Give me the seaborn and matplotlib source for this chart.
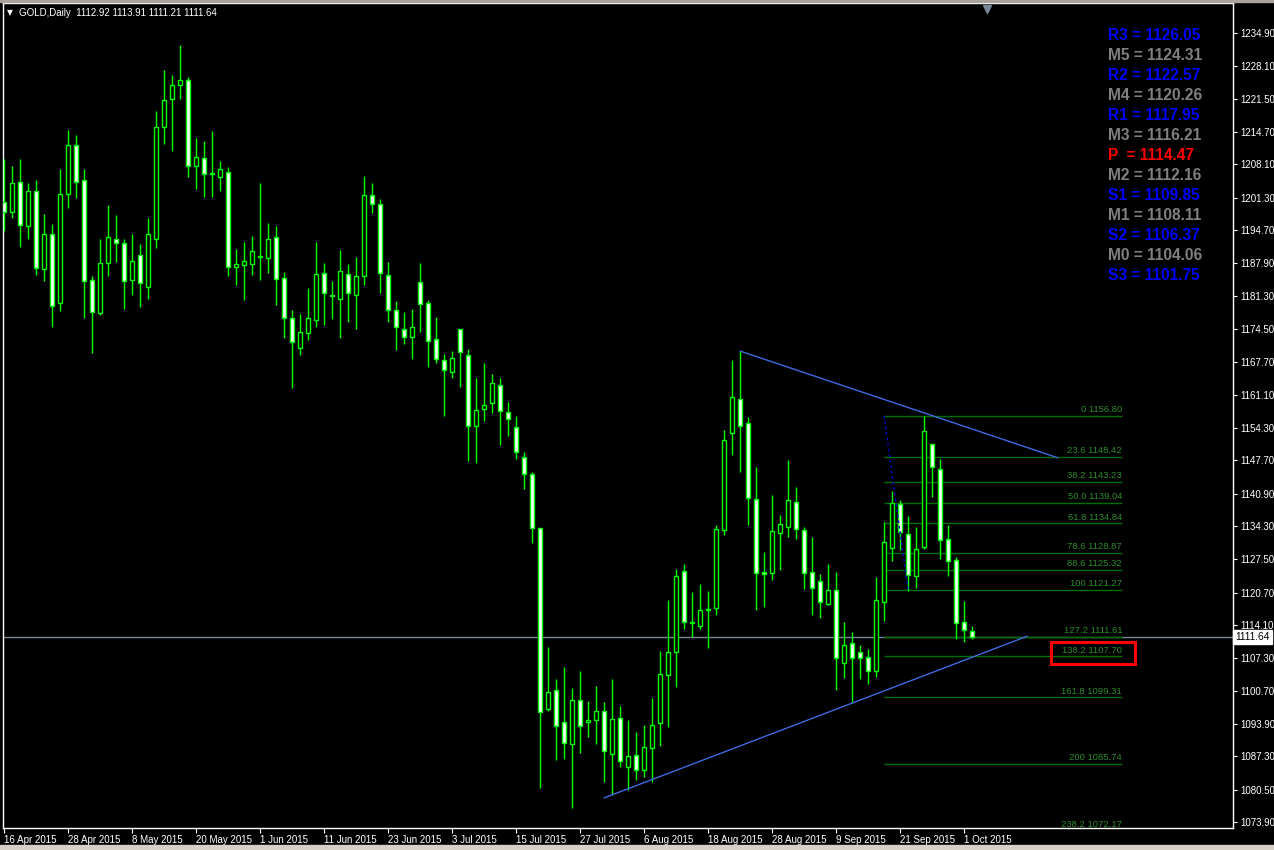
import numpy as np
import pandas as pd
import matplotlib
matplotlib.use("Agg")
import matplotlib.pyplot as plt
import matplotlib.transforms as mtransforms
from matplotlib.patches import Rectangle
import seaborn as sns

# GOLD daily bars, 16 Apr 2015 .. 2 Oct 2015
opens = [1200.5, 1198.3, 1204.6, 1195.6, 1202.6, 1186.7, 1193.8, 1179.9, 1202.0, 1212.0,
         1205.0, 1184.5, 1177.8, 1187.9, 1192.9, 1192.0, 1184.6, 1189.5, 1183.1, 1192.8,
         1215.7, 1221.4, 1224.2, 1225.4, 1207.7, 1209.3, 1206.3, 1205.5, 1206.6, 1187.1,
         1187.5, 1187.7, 1189.4, 1188.9, 1193.3, 1185.0, 1176.7, 1170.6, 1173.6, 1176.3,
         1185.9, 1181.5, 1180.6, 1185.7, 1181.4, 1185.3, 1201.8, 1200.1, 1185.5, 1178.3,
         1174.4, 1172.8, 1184.0, 1179.9, 1172.4, 1168.1, 1165.7, 1174.6, 1169.1, 1154.8,
         1158.1, 1159.3, 1163.0, 1157.5, 1154.6, 1148.3, 1145.0, 1133.8, 1097.0, 1100.8,
         1094.2, 1089.9, 1098.7, 1094.2, 1094.6, 1096.5, 1087.7, 1095.2, 1085.2, 1087.5,
         1084.4, 1088.9, 1094.0, 1103.8, 1108.5, 1125.2, 1114.5, 1113.8, 1117.2, 1117.5,
         1133.4, 1153.2, 1160.3, 1155.4, 1139.9, 1125.0, 1124.6, 1132.8, 1134.0, 1139.1,
         1133.4, 1125.0, 1123.0, 1118.3, 1121.2, 1106.3, 1110.5, 1108.5, 1107.5, 1104.6,
         1118.7, 1129.9, 1138.7, 1132.6, 1124.0, 1130.1, 1151.0, 1145.9, 1131.6, 1127.3,
         1114.6, 1112.92]
highs = [1209.2, 1207.8, 1209.2, 1204.2, 1204.9, 1198.0, 1195.9, 1207.2, 1215.1, 1214.1,
         1207.2, 1185.3, 1192.9, 1199.8, 1197.8, 1192.9, 1193.9, 1191.8, 1197.2, 1219.0,
         1227.4, 1226.3, 1232.5, 1225.9, 1213.5, 1212.9, 1214.9, 1208.8, 1207.6, 1190.8,
         1192.3, 1193.5, 1204.2, 1196.1, 1195.5, 1186.1, 1178.4, 1177.6, 1182.9, 1192.3,
         1188.0, 1184.3, 1190.6, 1187.8, 1189.1, 1205.7, 1204.3, 1201.0, 1188.2, 1180.2,
         1177.9, 1178.5, 1188.0, 1180.4, 1176.9, 1169.4, 1170.1, 1174.6, 1170.4, 1164.4,
         1167.5, 1165.3, 1164.6, 1159.5, 1156.7, 1149.4, 1145.4, 1133.8, 1109.6, 1103.1,
         1105.5, 1101.2, 1104.7, 1098.5, 1101.6, 1098.3, 1103.1, 1097.5, 1094.6, 1092.2,
         1093.6, 1099.1, 1108.8, 1119.2, 1125.5, 1126.5, 1120.8, 1122.4, 1121.0, 1134.4,
         1153.9, 1168.1, 1170.0, 1156.5, 1146.3, 1129.0, 1140.6, 1136.5, 1147.8, 1142.2,
         1134.0, 1132.0, 1124.4, 1126.5, 1125.0, 1114.6, 1112.6, 1110.1, 1109.1, 1123.8,
         1135.1, 1141.4, 1139.7, 1136.3, 1134.0, 1156.8, 1151.0, 1147.9, 1134.4, 1127.9,
         1118.9, 1113.91]
lows = [1194.6, 1197.2, 1191.3, 1192.9, 1185.5, 1184.2, 1175.0, 1178.2, 1199.1, 1201.3,
        1176.8, 1169.7, 1177.4, 1185.4, 1188.2, 1178.6, 1181.4, 1178.9, 1180.7, 1191.1,
        1212.3, 1210.9, 1221.5, 1205.6, 1203.1, 1201.5, 1201.5, 1202.7, 1185.4, 1183.5,
        1180.5, 1185.6, 1184.4, 1185.9, 1179.3, 1172.7, 1162.5, 1169.1, 1172.3, 1175.0,
        1175.4, 1176.6, 1172.7, 1176.0, 1174.4, 1183.5, 1198.2, 1181.9, 1176.0, 1170.3,
        1171.5, 1168.4, 1173.8, 1166.8, 1167.5, 1156.8, 1164.6, 1162.7, 1147.6, 1147.1,
        1155.8, 1157.3, 1150.9, 1152.7, 1148.0, 1141.9, 1130.9, 1080.9, 1096.6, 1086.6,
        1086.8, 1076.8, 1088.0, 1091.2, 1089.9, 1082.1, 1079.3, 1085.2, 1080.5, 1082.5,
        1083.1, 1082.1, 1089.3, 1093.3, 1101.4, 1113.2, 1111.6, 1113.2, 1109.3, 1116.1,
        1132.4, 1148.7, 1145.4, 1134.4, 1117.2, 1117.8, 1123.3, 1125.4, 1132.0, 1131.7,
        1121.4, 1116.2, 1115.6, 1118.2, 1100.9, 1103.3, 1098.1, 1103.1, 1102.1, 1103.5,
        1115.0, 1127.1, 1129.3, 1121.0, 1121.6, 1129.7, 1140.3, 1127.6, 1124.0, 1111.3,
        1110.7, 1111.21]
closes = [1198.3, 1204.2, 1195.7, 1202.6, 1186.9, 1193.8, 1179.1, 1202.0, 1212.0, 1204.4,
          1184.3, 1178.0, 1187.9, 1193.2, 1192.0, 1184.2, 1188.3, 1183.8, 1193.8, 1215.7,
          1221.2, 1224.2, 1225.4, 1207.7, 1209.7, 1206.1, 1206.1, 1207.1, 1187.1, 1187.7,
          1188.3, 1190.4, 1189.2, 1192.8, 1184.8, 1176.7, 1171.8, 1173.8, 1176.7, 1185.7,
          1181.8, 1181.3, 1186.3, 1181.8, 1185.3, 1201.8, 1200.1, 1185.9, 1178.3, 1175.0,
          1172.8, 1175.0, 1179.7, 1172.0, 1168.3, 1166.1, 1168.5, 1169.9, 1154.8, 1157.9,
          1158.9, 1163.4, 1157.7, 1156.1, 1149.3, 1145.0, 1133.8, 1096.3, 1100.5, 1093.5,
          1090.1, 1098.7, 1093.4, 1094.8, 1096.5, 1088.3, 1095.0, 1086.3, 1087.3, 1084.4,
          1089.1, 1093.6, 1104.0, 1108.5, 1124.0, 1114.6, 1114.7, 1117.1, 1117.4, 1133.6,
          1151.8, 1160.6, 1154.8, 1140.1, 1124.8, 1124.4, 1133.2, 1134.6, 1139.7, 1133.6,
          1124.8, 1121.6, 1118.7, 1121.2, 1107.3, 1110.1, 1107.3, 1107.3, 1104.6, 1119.1,
          1131.0, 1138.9, 1133.0, 1124.2, 1129.7, 1153.6, 1146.3, 1131.4, 1127.1, 1114.4,
          1113.0, 1111.64]

last_bar = [1112.92, 1113.91, 1111.21, 1111.64]

pivot_names = ["R3", "M5", "R2", "M4", "R1", "M3", "P ", "M2", "S1", "M1", "S2", "M0", "S3"]
pivot_values = [1126.05, 1124.31, 1122.57, 1120.26, 1117.95, 1116.21, 1114.47,
                1112.16, 1109.85, 1108.11, 1106.37, 1104.06, 1101.75]

fib_pct = ["0", "23.6", "38.2", "50.0", "61.8", "78.6", "88.6", "100",
           "127.2", "138.2", "161.8", "200", "238.2"]
fib_price = [1156.80, 1148.42, 1143.23, 1139.04, 1134.84, 1128.87, 1125.32, 1121.27,
             1111.61, 1107.70, 1099.31, 1085.74, 1072.17]

upper_trend_x = [92, 131.75]
upper_trend_y = [1170.0, 1148.2]
lower_trend_x = [75, 127.9]
lower_trend_y = [1078.8, 1111.8]
fib_anchor_x = [110, 113]
fib_anchor_y = [1156.80, 1121.27]

price_ticks = [1234.90, 1228.10, 1221.50, 1214.70, 1208.10, 1201.30, 1194.70, 1187.90,
               1181.30, 1174.50, 1167.70, 1161.10, 1154.30, 1147.70, 1140.90, 1134.30,
               1127.50, 1120.70, 1114.10, 1107.30, 1100.70, 1093.90, 1087.30, 1080.50,
               1073.90]

bid = 1111.64

df = pd.DataFrame({"open": opens, "high": highs, "low": lows, "close": closes})
df["date"] = pd.bdate_range("2015-04-16", periods=len(df))
df["bar"] = np.arange(len(df))

sns.set_theme(style="dark", rc={"axes.facecolor": "black", "figure.facecolor": "black",
                                "axes.edgecolor": "white", "axes.grid": False})
plt.rcParams["font.family"] = ["Liberation Sans", "DejaVu Sans"]

fig = plt.figure(figsize=(12.74, 8.50), dpi=100)
ax = fig.add_axes([3 / 1274, 1 - 828 / 850, 1230 / 1274, 825 / 850])

lime = "#00ff00"
bear = df["close"] < df["open"]

# wicks then bodies
ax.vlines(df["bar"], df["low"], df["high"], color=lime, lw=1.0, zorder=3)
bottoms = np.minimum(df["open"], df["close"])
heights = np.maximum((df["close"] - df["open"]).abs(), 0.12)
ax.bar(df["bar"], heights, bottom=bottoms, width=0.58,
       color=np.where(bear, "white", "black"), edgecolor=lime, linewidth=1.0, zorder=4)

# bid line
ax.axhline(bid, color="#778899", lw=1.0, zorder=2)

# trend lines
sns.lineplot(x=upper_trend_x, y=upper_trend_y, ax=ax, color="#4169e1", lw=1.0, zorder=5)
sns.lineplot(x=lower_trend_x, y=lower_trend_y, ax=ax, color="#4169e1", lw=1.0, zorder=5)

# fibonacci
ax.hlines(fib_price, 110, 139.75, color="#007000", lw=1.0, zorder=2)
ax.plot(fib_anchor_x, fib_anchor_y, color="#0000cd", lw=1.0, ls=(0, (2, 2)), zorder=5)
for pct, val in zip(fib_pct, fib_price):
    ax.text(139.75, val + 0.35, f"{pct} {val:.2f}", color="#2e8b2e", fontsize=6.8,
            ha="right", va="bottom", clip_on=True, zorder=6)

ax.add_patch(Rectangle((130.9, 1106.13), 10.5, 4.5, fill=False, edgecolor="red",
                       lw=2.2, zorder=7))

# pivot levels
for k, (name, val) in enumerate(zip(pivot_names, pivot_values)):
    if name.startswith("P"):
        col = "#ff0000"
        txt = f"P  = {val:.2f}"
    elif name.startswith("M"):
        col = "#808080"
        txt = f"{name} = {val:.2f}"
    else:
        col = "#0000ff"
        txt = f"{name} = {val:.2f}"
    ax.text(0.8984, (828 - 35 - 20 * k) / 825, txt, transform=ax.transAxes, color=col,
            fontsize=11.2, fontweight="bold", ha="left", va="center", zorder=8)

# axes, ticks
ax.set_xlim(-0.125, 153.625)
ax.set_ylim(1072.66, 1241.03)
ax.yaxis.tick_right()
ax.set_yticks(price_ticks)
ax.set_yticklabels([f"{p:.2f}" for p in price_ticks])
ticks = df["bar"][::8]
ax.set_xticks(ticks)
ax.set_xticklabels([f"{d.day} {d:%b %Y}" for d in df["date"][::8]])
for lbl in ax.get_xticklabels():
    lbl.set_ha("left")
ax.tick_params(axis="y", colors="white", direction="out", length=3, width=0.8,
               pad=2, labelsize=7, right=True, left=False)
ax.tick_params(axis="x", colors="white", direction="out", length=3.5, width=0.8,
               pad=1.5, labelsize=7, bottom=True)
for sp in ax.spines.values():
    sp.set_color("white")
    sp.set_linewidth(1.0)

# bid price box on the axis
trans = mtransforms.blended_transform_factory(ax.transAxes, ax.transData)
ax.text(1.0018, bid, f"{bid:.2f}", transform=trans, color="black", fontsize=7.4,
        ha="left", va="center", zorder=9,
        bbox=dict(boxstyle="square,pad=0.22", fc="white", ec="white"))

# header
o, h, l, c = last_bar
fig.text(7 / 1274, 1 - 13 / 850, "\u25bc", color="white", fontsize=5.5, va="center",
         family=["DejaVu Sans"])
fig.text(19 / 1274, 1 - 13 / 850, f"GOLD,Daily  {o:.2f} {h:.2f} {l:.2f} {c:.2f}",
         color="white", fontsize=7, va="center")

# chart shift marker
ax.plot([122.9], [1239.9], marker="v", ms=6, color="#778899", clip_on=False, zorder=9)

fig.patches.append(Rectangle((0, 0), 1, 5 / 850, transform=fig.transFigure,
                             color="#d4d0c8", zorder=0))
fig.patches.append(Rectangle((0, 1 - 2 / 850), 1, 2 / 850, transform=fig.transFigure,
                             color="#a8a49c", zorder=0))

fig.savefig("out.png", dpi=100, facecolor="black")
